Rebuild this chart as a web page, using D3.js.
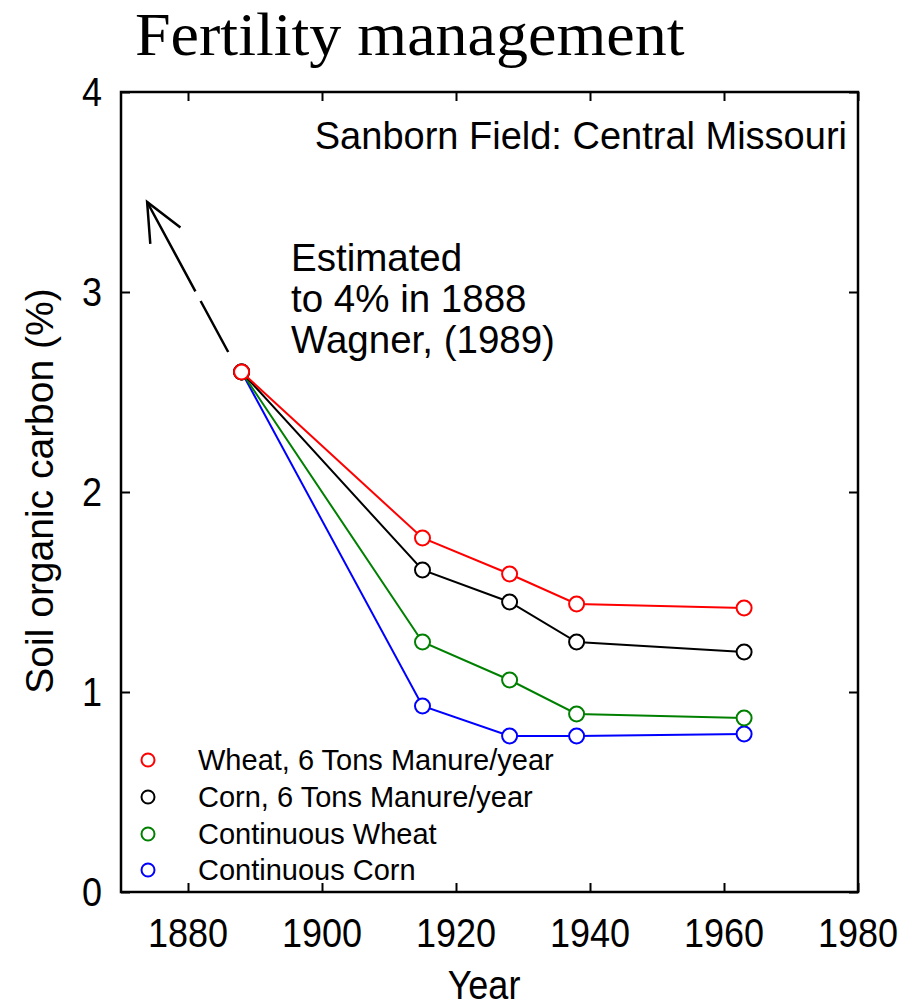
<!DOCTYPE html>
<html lang="en">
<head>
<meta charset="UTF-8">
<title>Fertility management</title>
<script src="https://d3js.org/d3.v7.min.js"></script>
<style>
  body { margin: 0; background: #fff; }
  text { fill: #000; }
</style>
</head>
<body>
<div id="chart"></div>
<script>
// data
var years = [1888, 1915, 1928, 1938, 1963];
var wheatManure = [2.60, 1.77, 1.59, 1.44, 1.42];
var cornManure = [2.60, 1.61, 1.45, 1.25, 1.20];
var contWheat = [2.60, 1.25, 1.06, 0.89, 0.87];
var contCorn = [2.60, 0.93, 0.78, 0.78, 0.79];
var seriesNames = ["Wheat, 6 Tons Manure/year", "Corn, 6 Tons Manure/year", "Continuous Wheat", "Continuous Corn"];
var seriesColors = ["#ff0000", "#000000", "#008000", "#0000ff"];
var xTicks = [1880, 1900, 1920, 1940, 1960, 1980];
var yTicks = [0, 1, 2, 3, 4];
// arrow from the 1888 point back to the estimate
var arrowFrom = [1886.0, 2.70];
var arrowTo = [1873.9, 3.45];

var allSeries = [wheatManure, cornManure, contWheat, contCorn];

var W = 918, H = 1008;
var mLeft = 121, mRight = 858, mTop = 92, mBottom = 892;

var svg = d3.select("#chart").append("svg")
    .attr("width", W)
    .attr("height", H);

var x = d3.scaleLinear().domain([1870, 1980]).range([mLeft, mRight]);
var y = d3.scaleLinear().domain([0, 4]).range([mBottom, mTop]);

var sans = "'Liberation Sans', Arial, Helvetica, sans-serif";

// title
svg.append("text")
    .attr("transform", "translate(135,55) scale(1.05,1)")
    .style("font-family", "'Liberation Serif', 'Times New Roman', serif")
    .style("font-size", "61px")
    .text("Fertility management");

// axes with inward ticks on all four sides
var tickLen = 9;
svg.append("g")
    .attr("transform", "translate(0," + mBottom + ")")
    .call(d3.axisTop(x).tickValues(xTicks).tickSize(tickLen).tickFormat(""))
    .call(g => g.select(".domain").remove());
svg.append("g")
    .attr("transform", "translate(0," + mTop + ")")
    .call(d3.axisBottom(x).tickValues(xTicks).tickSize(tickLen).tickFormat(""))
    .call(g => g.select(".domain").remove());
svg.append("g")
    .attr("transform", "translate(" + mLeft + ",0)")
    .call(d3.axisRight(y).tickValues(yTicks).tickSize(tickLen).tickFormat(""))
    .call(g => g.select(".domain").remove());
svg.append("g")
    .attr("transform", "translate(" + mRight + ",0)")
    .call(d3.axisLeft(y).tickValues(yTicks).tickSize(tickLen).tickFormat(""))
    .call(g => g.select(".domain").remove());
svg.selectAll(".tick line").attr("stroke", "#000").attr("stroke-width", 2);

// frame
svg.append("rect")
    .attr("x", mLeft).attr("y", mTop)
    .attr("width", mRight - mLeft).attr("height", mBottom - mTop)
    .attr("fill", "none").attr("stroke", "#000").attr("stroke-width", 2.5);

// tick labels (slightly condensed, like the original)
svg.selectAll("text.xl").data(xTicks).enter().append("text")
    .attr("class", "xl")
    .attr("transform", d => "translate(" + x(d) + ",947) scale(0.9,1)")
    .attr("text-anchor", "middle")
    .style("font-family", sans).style("font-size", "40px")
    .text(d => d);
svg.selectAll("text.yl").data(yTicks).enter().append("text")
    .attr("class", "yl")
    .attr("transform", d => "translate(102," + (y(d) + 14) + ") scale(0.9,1)")
    .attr("text-anchor", "end")
    .style("font-family", sans).style("font-size", "40px")
    .text(d => d);

// axis titles
svg.append("text")
    .attr("transform", "translate(484,999) scale(0.9,1)")
    .attr("text-anchor", "middle")
    .style("font-family", sans).style("font-size", "40px")
    .text("Year");
svg.append("text")
    .attr("transform", "translate(53,491) rotate(-90)")
    .attr("text-anchor", "middle")
    .style("font-family", sans).style("font-size", "39px")
    .text("Soil organic carbon (%)");

// annotations
svg.append("text")
    .attr("x", 847).attr("y", 149)
    .attr("text-anchor", "end")
    .style("font-family", sans).style("font-size", "38px")
    .text("Sanborn Field: Central Missouri");
var note = ["Estimated", "to 4% in 1888", "Wagner, (1989)"];
svg.selectAll("text.note").data(note).enter().append("text")
    .attr("class", "note")
    .attr("x", 291).attr("y", (d, i) => 271 + i * 41)
    .style("font-family", sans).style("font-size", "38.5px")
    .text(d => d);

// dashed arrow
var ax0 = x(arrowFrom[0]), ay0 = y(arrowFrom[1]);
var ax1 = x(arrowTo[0]), ay1 = y(arrowTo[1]);
svg.append("line")
    .attr("x1", ax0).attr("y1", ay0).attr("x2", ax1).attr("y2", ay1)
    .attr("stroke", "#000").attr("stroke-width", 2.5)
    .attr("stroke-dasharray", "58,11,300");
var ang = Math.atan2(ay0 - ay1, ax0 - ax1);
var headLen = 42, spread = 0.42;
var head = d3.path();
head.moveTo(ax1 + headLen * Math.cos(ang - spread), ay1 + headLen * Math.sin(ang - spread));
head.lineTo(ax1, ay1);
head.lineTo(ax1 + headLen * Math.cos(ang + spread), ay1 + headLen * Math.sin(ang + spread));
svg.append("path")
    .attr("d", head.toString())
    .attr("fill", "none").attr("stroke", "#000").attr("stroke-width", 2.5);

// series lines and markers
var line = d3.line().x((d, i) => x(years[i])).y(d => y(d));
// draw in reverse so red sits on top at the shared start point
d3.range(allSeries.length).reverse().forEach(function(s) {
    svg.append("path")
        .datum(allSeries[s])
        .attr("d", line)
        .attr("fill", "none")
        .attr("stroke", seriesColors[s])
        .attr("stroke-width", 2);
    svg.selectAll("circle.s" + s).data(allSeries[s]).enter().append("circle")
        .attr("class", "s" + s)
        .attr("cx", (d, i) => x(years[i]))
        .attr("cy", d => y(d))
        .attr("r", 7.5)
        .attr("fill", "#fff")
        .attr("stroke", seriesColors[s])
        .attr("stroke-width", 2);
});

// legend
var legendY = [760, 797, 834, 870];
seriesNames.forEach(function(name, i) {
    svg.append("circle")
        .attr("cx", 148).attr("cy", legendY[i]).attr("r", 6.5)
        .attr("fill", "#fff").attr("stroke", seriesColors[i]).attr("stroke-width", 2);
    svg.append("text")
        .attr("x", 198).attr("y", legendY[i] + 10)
        .style("font-family", sans).style("font-size", "29px")
        .text(name);
});
</script>
</body>
</html>
